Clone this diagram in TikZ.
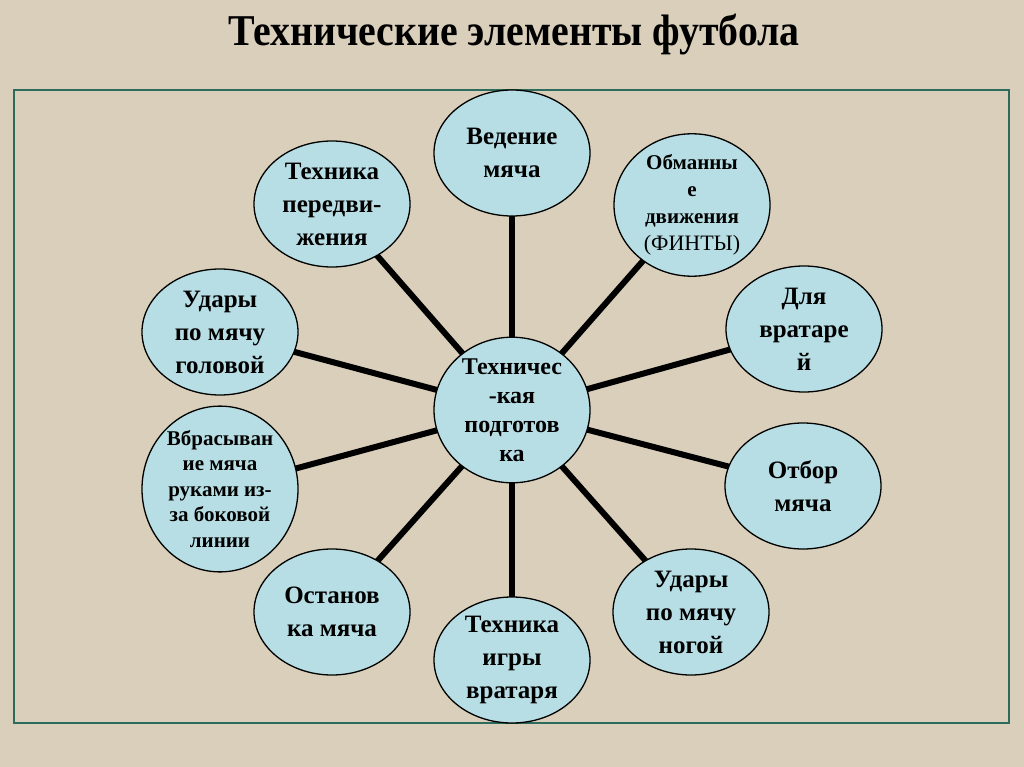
\documentclass[tikz,border=0pt]{standalone}
\usepackage{fontspec}
\setmainfont{Liberation Serif}
\usetikzlibrary{shapes.geometric}
\definecolor{bgbeige}{RGB}{217,207,186}
\definecolor{ellfill}{RGB}{183,222,228}
\definecolor{framecol}{RGB}{45,108,92}
\pgfdeclarelayer{bg}
\pgfsetlayers{bg,main}
\newcommand{\finty}{\mdseries\fontsize{22}{26}\selectfont}
\tikzset{
  bub/.style={ellipse, draw=black, line width=1.3pt, fill=ellfill, inner sep=0pt,
    minimum width=156pt, minimum height=126pt, align=center,
    font=\bfseries\fontsize{25}{33}\selectfont},
  link/.style={line width=6pt, black},
}
\begin{document}
\begin{tikzpicture}[x=1pt,y=-1pt]
\begin{pgfonlayer}{bg}
\fill[bgbeige] (0,0) rectangle (1024,767);
\end{pgfonlayer}
\useasboundingbox (0,0) rectangle (1024,767);
\node[font=\bfseries\fontsize{44}{50}\selectfont] (title) at (514,35) {\scalebox{0.905}[1]{Технические элементы футбола}};
\node[draw=framecol, line width=2.5pt, minimum width=995pt, minimum height=633pt, inner sep=0pt] (frame) at (511.5,406.5) {};

\node[bub, font=\bfseries\fontsize{24}{29}\selectfont] (c) at (512,410) {Техничес\\-кая\\подготов\\ка};
\node[bub] (ved) at (512,153) {Ведение\\мяча};
\node[bub, font=\bfseries\fontsize{21}{27}\selectfont] (obm) at (692,205) {Обманны\\е\\движения\\ \finty(ФИНТЫ)};
\node[bub] (vrt) at (804,329) {Для\\вратаре\\й};
\node[bub] (otb) at (803,486) {Отбор\\мяча};
\node[bub] (nog) at (691,612) {Удары\\по мячу\\ногой};
\node[bub] (igr) at (512,660) {Техника\\игры\\вратаря};
\node[bub] (ost) at (332,612) {Останов\\ка мяча};
\node[bub, font=\bfseries\fontsize{21}{25.5}\selectfont] (vbr) at (220,489) {Вбрасыван\\ие мяча\\руками из-\\за боковой\\линии};
\node[bub] (gol) at (220,332) {Удары\\по мячу\\головой};
\node[bub] (per) at (332,204) {Техника\\передви-\\жения};

\begin{pgfonlayer}{bg}
\foreach \n in {ved,obm,vrt,otb,nog,igr,ost,vbr,gol,per}
  \draw[link] (c.center) -- (\n.center);
\end{pgfonlayer}
\end{tikzpicture}
\end{document}
